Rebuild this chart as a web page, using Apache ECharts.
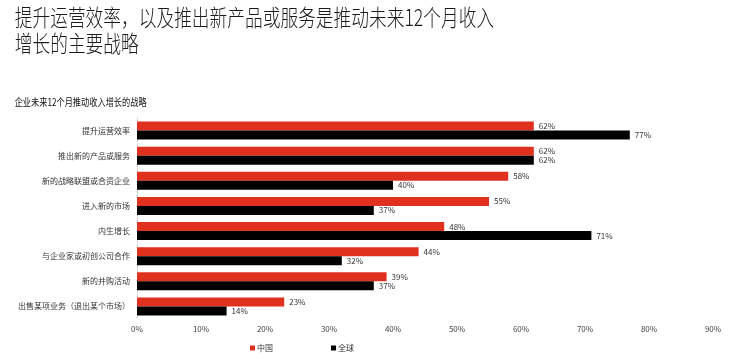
<!DOCTYPE html>
<html><head><meta charset="utf-8">
<script src="https://cdn.jsdelivr.net/npm/echarts@6/dist/echarts.min.js"></script>
<style>html,body{margin:0;padding:0;background:#fff}#c{width:750px;height:359px}</style>
</head><body><div id="c"></div>
<script>
const categories = ['提升运营效率','推出新的产品或服务','新的战略联盟或合资企业','进入新的市场','内生增长','与企业家或初创公司合作','新的并购活动','出售某项业务（退出某个市场）'];
const chinaValues = [62, 62, 58, 55, 48, 44, 39, 23];
const globalValues = [77, 62, 40, 37, 71, 32, 37, 14];
const seriesNames = ['中国', '全球'];
const titleText = '提升运营效率，以及推出新产品或服务是推动未来12个月收入\n增长的主要战略';
const subtitleText = '企业未来12个月推动收入增长的战略';

const chart = echarts.init(document.getElementById('c'));
const cjk = '"Noto Sans CJK SC", "Noto Sans", sans-serif';
const lbl = { show: true, position: 'right', distance: 5, fontSize: 8, color: '#333', fontFamily: cjk, formatter: p => p.value + '%' };
chart.setOption({
  animation: false,
  graphic: [
    { type: 'text', x: 12, y: 4, scaleX: 0.77, scaleY: 1, originX: 12, style: { text: titleText, fontSize: 23, lineHeight: 26, fill: '#1a1a1a', fontFamily: cjk, fontWeight: 300 } },
    { type: 'text', x: 12, y: 97, scaleX: 0.78, originX: 12, style: { text: subtitleText, fontSize: 10.5, fill: '#111', fontFamily: cjk } }
  ],
  legend: {
    data: seriesNames, left: 245, top: 339, itemWidth: 5, itemHeight: 5, itemGap: 58,
    icon: 'rect', textStyle: { fontSize: 8, color: '#333', fontFamily: cjk, padding: [0,0,0,-3] }
  },
  grid: { left: 137, right: 37, top: 118, bottom: 40 },
  xAxis: {
    type: 'value', min: 0, max: 90, interval: 10,
    axisLabel: { formatter: '{value}%', fontSize: 8, color: '#444', margin: 6, fontFamily: cjk },
    splitLine: { show: false }, axisLine: { show: false }, axisTick: { show: false }
  },
  yAxis: {
    type: 'category', data: categories, inverse: true,
    axisLabel: { fontSize: 8, color: '#333', margin: 7, fontFamily: cjk },
    axisLine: { show: true, lineStyle: { color: '#ddd', width: 1 } }, axisTick: { show: false }
  },
  series: [
    { name: seriesNames[0], type: 'bar', data: chinaValues, barWidth: 9, barGap: '0%', itemStyle: { color: '#e0301e' }, label: lbl },
    { name: seriesNames[1], type: 'bar', data: globalValues, barWidth: 9, barGap: '0%', itemStyle: { color: '#000' }, label: lbl }
  ]
});
</script></body></html>
